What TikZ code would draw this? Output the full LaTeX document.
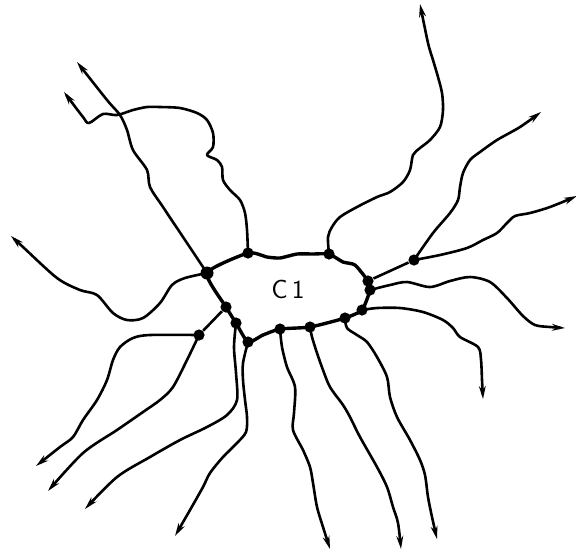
\documentclass[tikz,border=0pt]{standalone}
\usepackage{tikz}
\usetikzlibrary{arrows.meta}
\tikzset{
  rim/.style={line width=1.7pt,line join=round},
  ray/.style={line width=1.3pt,line join=round,-{Stealth[length=6.5pt,width=3.4pt]}},
  link/.style={line width=1.3pt},
  dot/.style={circle,fill=black,inner sep=0pt,minimum size=5.6pt}
}
\begin{document}
\begin{tikzpicture}[x=0.5pt,y=-0.5pt]
  \useasboundingbox (0,0) rectangle (576,554);
  % junctions on the rim of the region
  \coordinate (v0) at (207,273);
  \node[dot] (b1) at (248,253) {};
  \node[dot] (b2) at (329,254) {};
  \node[dot] (b3) at (368,281) {};
  \node[dot] (b4) at (370,290) {};
  \node[dot] (b5) at (362,310) {};
  \node[dot] (b6) at (345,318) {};
  \node[dot] (b7) at (310,327) {};
  \node[dot] (b8) at (280,329) {};
  \node[dot] (b9) at (248,342) {};
  \node[dot] (b10) at (236,323) {};
  \node[dot] (b11) at (226,307) {};
  \node[dot,minimum size=6.5pt] (b0) at (v0) {};
  % branch points outside
  \node[dot] (dW) at (199,335) {};
  \node[dot] (dE) at (414,260) {};
  % free ends
  \coordinate (tA) at (77,62);
  \coordinate (tB) at (64,92);
  \coordinate (tC) at (11,236);
  \coordinate (tD) at (36,466);
  \coordinate (tE) at (48,491);
  \coordinate (tF) at (85,509);
  \coordinate (tG) at (175,536);
  \coordinate (tH) at (330,549);
  \coordinate (tI) at (401,549);
  \coordinate (tJ) at (437,539);
  \coordinate (tK) at (483,399);
  \coordinate (tL) at (565,328);
  \coordinate (tM) at (577,196);
  \coordinate (tN) at (541,112);
  \coordinate (tP) at (420,4);

  \draw[rim] plot[smooth cycle,tension=0.35] coordinates {(v0) (b1.center) (267,257) (280,258) (297,254) (313,254)
    (b2.center) (343,262) (355,265) (b3.center) (b4.center) (b5.center) (b6.center) (b7.center) (b8.center)
    (263,335) (b9.center) (b10.center) (b11.center)};
  \node[font=\sffamily\fontsize{13}{15}\selectfont] (c1) at (288,289) {C\,1};

  \draw[link] (b11) -- (dW);
  \draw[link] (b3) -- (dE);

  \draw[ray] plot[smooth,tension=0.5] coordinates {(v0) (187,243) (163,207) (150,187) (147,170) (133,150)
    (127,130) (120,115) (107,100) (tA)};
  \draw[ray] plot[smooth,tension=0.5] coordinates {(b1.center) (247,230) (245,213) (240,200) (230,190) (223,180)
    (222,167) (217,160) (207,155) (213,147) (213,133) (207,120) (197,113) (180,108) (160,107) (147,107)
    (133,110) (117,115) (103,114) (89,123) (83,117) (70,100) (tB)};
  \draw[ray] plot[smooth,tension=0.5] coordinates {(v0) (185,278) (172,285) (160,303) (143,318) (127,320)
    (113,313) (97,295) (80,290) (57,278) (23,247) (tC)};
  \draw[ray] plot[smooth,tension=0.5] coordinates {(dW.center) (150,335) (133,338) (120,347) (113,360)
    (107,380) (97,400) (83,420) (73,437) (60,447) (tD)};
  \draw[ray] plot[smooth,tension=0.5] coordinates {(dW.center) (187,360) (173,387) (160,400) (143,412)
    (117,430) (83,453) (tE)};
  \draw[ray] plot[smooth,tension=0.5] coordinates {(b10.center) (234,347) (236,373) (237,400) (227,415)
    (207,427) (180,440) (150,457) (117,477) (tF)};
  \draw[ray] plot[smooth,tension=0.5] coordinates {(b9.center) (243,363) (243,380) (245,400) (247,417)
    (246,432) (237,443) (223,457) (210,473) (203,487) (190,510) (tG)};
  \draw[ray] plot[smooth,tension=0.5] coordinates {(b8.center) (282,347) (287,367) (295,387) (294,413)
    (293,430) (303,450) (310,467) (313,483) (317,507) (323,527) (tH)};
  \draw[ray] plot[smooth,tension=0.5] coordinates {(b7.center) (312,337) (317,353) (323,370) (330,387)
    (343,405) (350,417) (360,437) (377,467) (387,487) (393,507) (398,523) (tI)};
  \draw[ray] plot[smooth,tension=0.5] coordinates {(b6.center) (347,328) (357,335) (367,342) (377,357)
    (387,377) (390,397) (397,417) (410,440) (420,460) (425,475) (428,497) (432,517) (tJ)};
  \draw[ray] plot[smooth,tension=0.5] coordinates {(b5.center) (377,308) (400,308) (423,312) (443,320)
    (453,328) (460,337) (478,347) (481,360) (482,380) (tK)};
  \draw[ray] plot[smooth,tension=0.5] coordinates {(b4.center) (390,285) (407,282) (430,287) (450,281)
    (470,277) (490,282) (507,298) (523,316) (535,325) (550,327) (tL)};
  \draw[ray] plot[smooth,tension=0.5] coordinates {(dE.center) (440,255) (467,248) (483,240) (497,233)
    (507,223) (515,216) (530,213) (550,207) (tM)};
  \draw[ray] plot[smooth,tension=0.5] coordinates {(dE.center) (433,233) (450,213) (458,200) (460,187)
    (463,173) (470,160) (480,152) (497,140) (520,127) (tN)};
  \draw[ray] plot[smooth,tension=0.5] coordinates {(b2.center) (328,237) (332,227) (340,217) (357,207)
    (377,197) (390,192) (403,182) (410,170) (413,155) (420,148) (430,140) (440,127) (443,110) (442,93)
    (438,77) (433,60) (428,43) (tP)};
\end{tikzpicture}
\end{document}
